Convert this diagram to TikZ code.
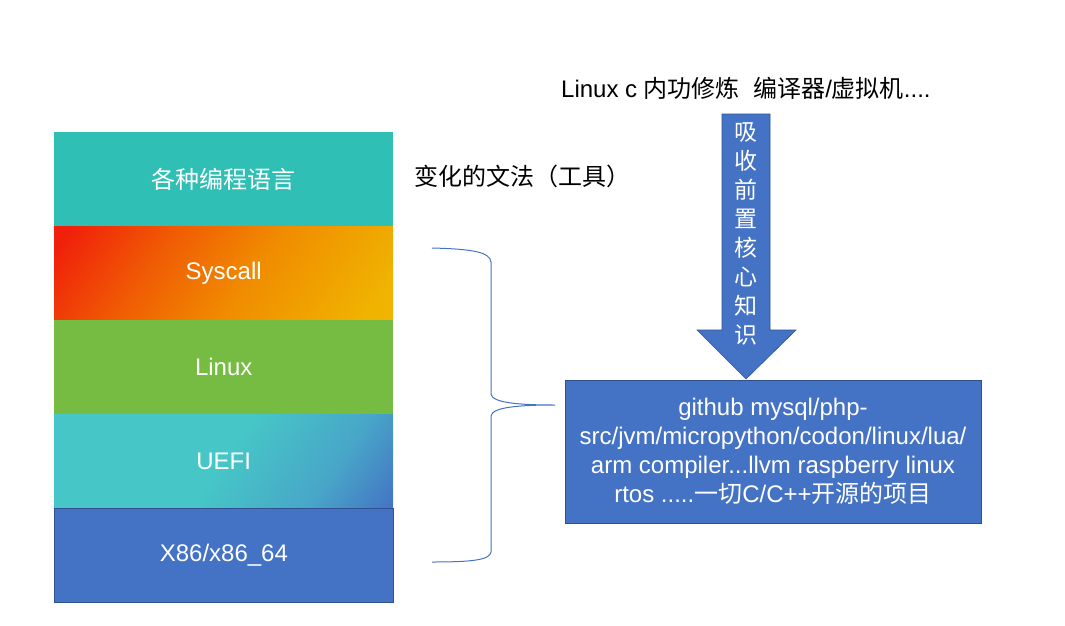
\documentclass[tikz,border=0pt]{standalone}
\usepackage{fontspec}
\setmainfont{Liberation Sans}
\newfontfamily\cjk{Noto Sans CJK SC}
\definecolor{topteal}{HTML}{2FBFB4}
\definecolor{sysred}{HTML}{F0200A}
\definecolor{sysred2}{HTML}{F05A04}
\definecolor{sysorange}{HTML}{F08C00}
\definecolor{sysyellow}{HTML}{F0B400}
\definecolor{lingreen}{HTML}{76BC43}
\definecolor{ueteal}{HTML}{46C6C6}
\definecolor{uemid}{HTML}{48A6C8}
\definecolor{msblue}{HTML}{4472C4}
\definecolor{msborder}{HTML}{2F528F}
\pgfdeclarehorizontalshading{sysshade}{100bp}{color(0bp)=(sysred); color(18bp)=(sysred); color(36bp)=(sysred2); color(55bp)=(sysorange); color(80bp)=(sysyellow); color(100bp)=(sysyellow)}
\pgfdeclarehorizontalshading{ueshade}{100bp}{color(0bp)=(ueteal); color(50bp)=(ueteal); color(70bp)=(uemid); color(85bp)=(msblue); color(100bp)=(msblue)}
\begin{document}
\begin{tikzpicture}[x=1pt,y=-1pt]
\useasboundingbox (0,0) rectangle (1065,626);
\tikzset{
  layer/.style={anchor=north west, minimum width=339pt, minimum height=94pt, inner sep=0pt,
    text=white, font=\fontsize{24}{28}\selectfont},
  plain/.style={anchor=west, inner sep=0pt, text=black, font=\fontsize{24}{28}\selectfont},
  bluebox/.style={fill=msblue, draw=msborder, line width=0.8pt, text=white, align=center,
    font=\fontsize{24}{29}\selectfont, minimum width=416pt, minimum height=143pt, inner sep=0pt},
  bracestyle/.style={draw=msblue, line width=1pt}
}
% stack
\node[layer, fill=topteal] (lang) at (54,132) {\cjk 各种编程语言};
\node[layer, shading=sysshade, shading angle=-35] (sys) at (54,226) {Syscall};
\node[layer, fill=lingreen] (linux) at (54,320) {Linux};
\node[layer, shading=ueshade, shading angle=-35] (uefi) at (54,414) {UEFI};
\node[layer, fill=msblue, draw=msborder, line width=0.8pt] (x86) at (54,508) {X86/x86\_64};
% labels
\node[plain] (gram) at (414,176) {\cjk 变化的文法（工具）};
\node[plain] (title) at (561,88) {Linux c {\cjk 内功修炼}\ \ {\cjk 编译器}/{\cjk 虚拟机}....};
% arrow
\fill[msblue, draw=msborder, line width=0.6pt] (722,114) -- (770,114) -- (770,330) -- (796,330) -- (746,379) -- (697,330) -- (722,330) -- cycle;
\node[text=white, align=center, inner sep=0pt, font=\cjk\fontsize{23}{28.9}\selectfont] (absorb) at (746,234) {吸\\收\\前\\置\\核\\心\\知\\识};
% box
\node[bluebox] (proj) at (773,451.5) {github mysql/php-\\src/jvm/micropython/codon/linux/lua/\\arm compiler...llvm raspberry linux\\rtos .....{\cjk 一切}C/C++{\cjk 开源的项目}};
% brace
\coordinate (btop) at (432,248);
\coordinate (btip) at (555,405);
\coordinate (bbot) at (432,562);
\draw[bracestyle] (btop) .. controls (472,249) and (490,252) .. (491,262) -- (491,394)
  .. controls (492,403) and (520,405) .. (btip)
  .. controls (520,405) and (492,407) .. (491,416) -- (491,552)
  .. controls (490,560) and (472,562) .. (bbot);
\end{tikzpicture}
\end{document}
